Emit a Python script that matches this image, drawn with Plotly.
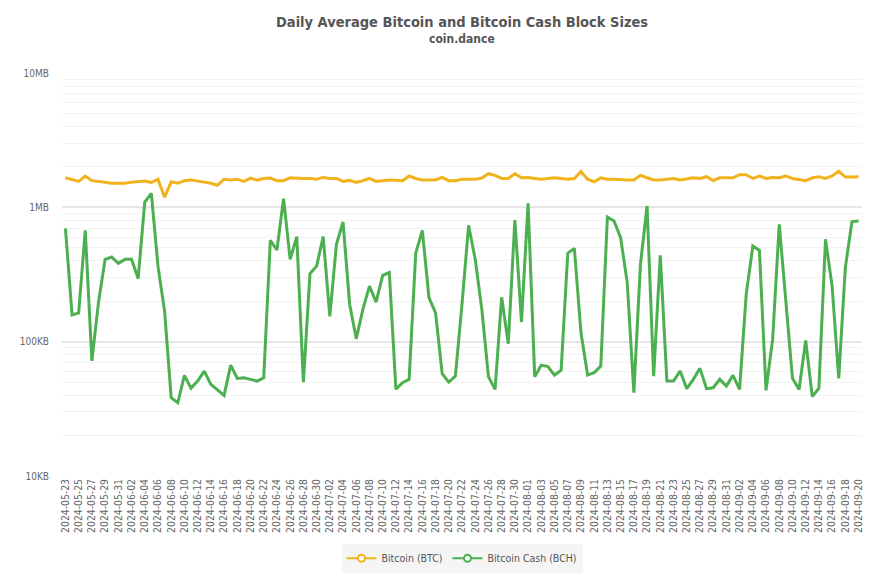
import pandas as pd
import plotly.graph_objects as go

dates = pd.date_range("2024-05-23", "2024-09-20", freq="D").strftime("%Y-%m-%d").tolist()

# Bitcoin (BTC) average block size, MB
btc_mb = [
    1.66, 1.60, 1.56, 1.71, 1.58, 1.56, 1.53, 1.51, 1.51, 1.51,
    1.54, 1.56, 1.57, 1.53, 1.62, 1.19, 1.55, 1.51, 1.58, 1.60,
    1.56, 1.54, 1.51, 1.46, 1.62, 1.60, 1.62, 1.56, 1.65, 1.59,
    1.64, 1.65, 1.58, 1.58, 1.66, 1.64, 1.64, 1.64, 1.62, 1.67,
    1.64, 1.64, 1.56, 1.59, 1.53, 1.58, 1.64, 1.56, 1.58, 1.60,
    1.59, 1.58, 1.71, 1.64, 1.60, 1.60, 1.60, 1.67, 1.58, 1.58,
    1.62, 1.62, 1.62, 1.65, 1.78, 1.73, 1.64, 1.64, 1.78, 1.66,
    1.67, 1.64, 1.62, 1.64, 1.66, 1.64, 1.62, 1.64, 1.85, 1.62,
    1.55, 1.66, 1.62, 1.62, 1.60, 1.60, 1.60, 1.73, 1.66, 1.60,
    1.60, 1.62, 1.64, 1.60, 1.64, 1.66, 1.64, 1.69, 1.58, 1.66,
    1.66, 1.66, 1.75, 1.75, 1.64, 1.71, 1.64, 1.67, 1.66, 1.71,
    1.64, 1.62, 1.58, 1.66, 1.69, 1.64, 1.71, 1.86, 1.68, 1.68,
    1.69,
]

# Bitcoin Cash (BCH) average block size, KB
bch_kb = [
    698, 158, 164, 674, 72, 196, 410, 427, 383, 410,
    410, 295, 1095, 1271, 365, 169, 38.3, 35.1, 56.1, 45.1,
    50.9, 60.4, 48.1, 44.1, 39.8, 66.9, 53.3, 53.9, 52.4, 50.9,
    53.9, 568, 481, 1161, 410, 605, 50.0, 321, 365, 605,
    154, 530, 777, 190, 105, 174, 259, 197, 312, 327,
    44.3, 49.5, 52.4, 455, 674, 213, 164, 57.8, 50.0, 55.4,
    190, 735, 410, 174, 54.9, 44.1, 214, 96.6, 804, 140,
    1071, 54.9, 66.9, 65.2, 56.4, 61.4, 455, 495, 117, 56.4,
    58.8, 65.8, 847, 791, 595, 275, 41.7, 376, 1023, 55.4,
    439, 50.9, 50.9, 60.4, 44.7, 52.4, 63.3, 44.7, 45.4, 52.4,
    46.7, 56.1, 44.1, 225, 515, 478, 43.4, 104, 747, 207,
    53.3, 44.1, 102, 39.0, 45.1, 578, 259, 53.3, 356, 783,
    791,
]

btc_kb = [v * 1000 for v in btc_mb]

y_tickvals = [10, 100, 1000, 10000]
y_ticktext = ["10KB", "100KB", "1MB", "10MB"]

BTC_COLOR = "#F2B21C"
BCH_COLOR = "#4CAF50"
FONT = "DejaVu Sans Condensed"

fig = go.Figure()
fig.add_trace(go.Scatter(x=dates, y=btc_kb, mode="lines", name="Bitcoin (BTC)",
                         line=dict(color=BTC_COLOR, width=3), showlegend=False))
fig.add_trace(go.Scatter(x=dates, y=bch_kb, mode="lines", name="Bitcoin Cash (BCH)",
                         line=dict(color=BCH_COLOR, width=3), showlegend=False))
# legend entries (line with open circle)
for nm, col in [("Bitcoin (BTC)", BTC_COLOR), ("Bitcoin Cash (BCH)", BCH_COLOR)]:
    fig.add_trace(go.Scatter(x=[None], y=[None], mode="lines+markers", name=nm,
                             line=dict(color=col, width=2),
                             marker=dict(symbol="circle", size=7, color="white",
                                         line=dict(color=col, width=2))))

fig.update_layout(
    width=877, height=585,
    margin=dict(l=62, r=15, t=73, b=109),
    paper_bgcolor="white", plot_bgcolor="white",
    font=dict(family=FONT, size=10, color="#666666"),
    legend=dict(orientation="h", x=0.5, xanchor="center", y=-0.168, yanchor="top",
                bgcolor="#f5f5f5", font=dict(size=10.5, color="#555555"),
                itemwidth=30),
    annotations=[
        dict(text="<b>Daily Average Bitcoin and Bitcoin Cash Block Sizes</b>", xref="paper", yref="paper",
             x=0.5, y=1, yshift=51, xanchor="center", yanchor="middle", showarrow=False,
             font=dict(family=FONT, size=14.5, color="#555555")),
        dict(text="<b>coin.dance</b>", xref="paper", yref="paper",
             x=0.5, y=1, yshift=34, xanchor="center", yanchor="middle", showarrow=False,
             font=dict(family=FONT, size=12, color="#555555")),
    ],
)

fig.update_xaxes(
    type="date",
    range=["2024-05-22 11:30", "2024-09-20 12:30"],
    tick0="2024-05-23", dtick=2 * 86400000, tickformat="%Y-%m-%d",
    tickangle=-90, showgrid=False, zeroline=False, showline=False,
    tickfont=dict(size=10.3, color="#666666"), ticks="",
)
fig.update_yaxes(
    type="log", range=[1, 4],
    tickvals=y_tickvals, ticktext=y_ticktext,
    showgrid=True, gridcolor="#e6e6e6", gridwidth=2,
    minor=dict(showgrid=True, dtick="D1", gridcolor="#f2f2f2", gridwidth=1),
    zeroline=False, showline=False, ticks="",
    tickfont=dict(size=10, color="#666666"), ticklabelstandoff=12,
)

fig.write_html("out.html", config={"displayModeBar": False},
               post_script="document.body.style.margin='0px';")
